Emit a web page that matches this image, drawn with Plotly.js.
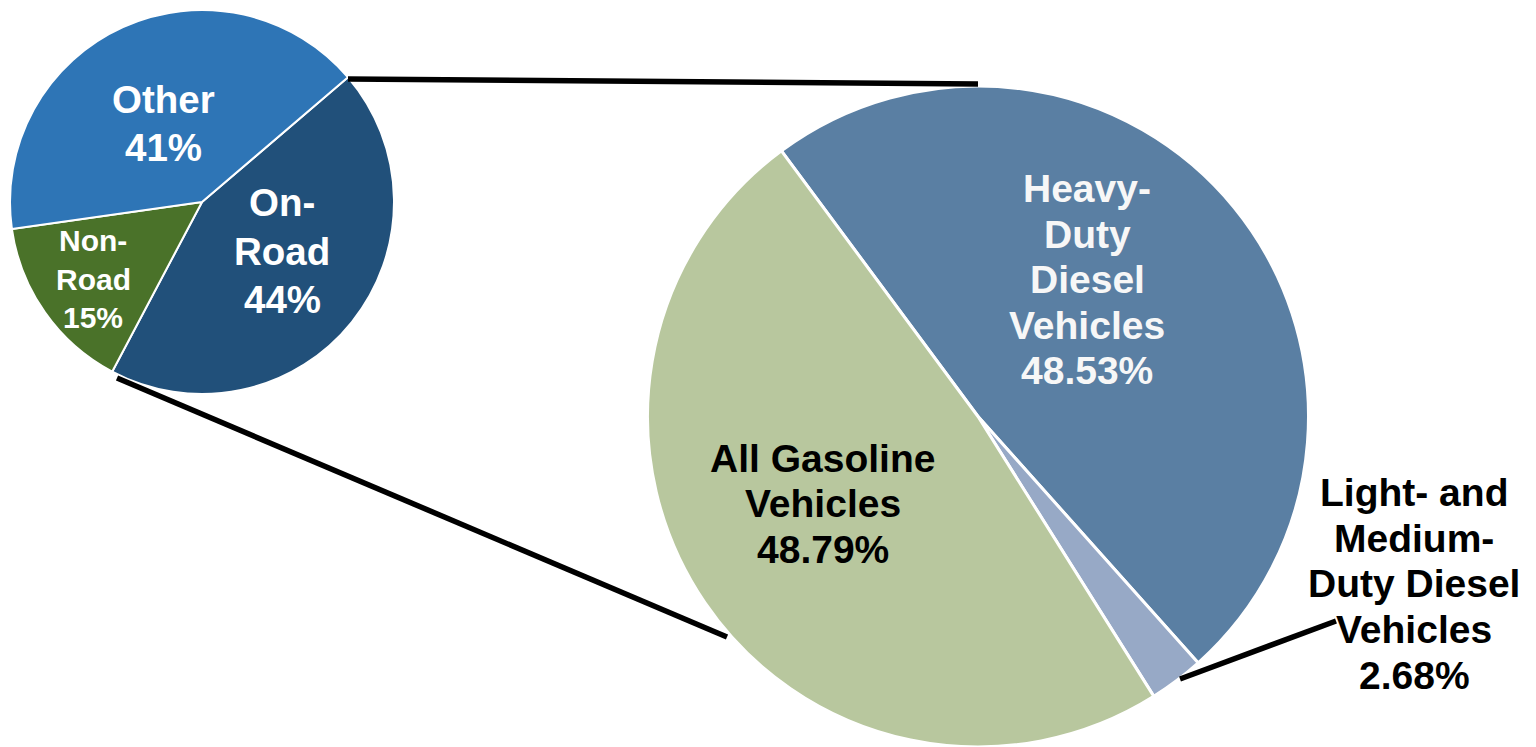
<!DOCTYPE html>
<html>
<head>
<meta charset="utf-8">
<script src="https://cdn.plot.ly/plotly-3.0.1.min.js"></script>
<style>
  html, body { margin: 0; padding: 0; background: #ffffff; }
  #chart { width: 1536px; height: 747px; }
</style>
</head>
<body>
<div id="chart"></div>
<script>
// ---- Data ----
const smallLabels = ['On-Road', 'Non-Road', 'Other'];
const smallValues = [44, 15, 41];
const smallLabelLines = [['On-', 'Road'], ['Non-', 'Road'], ['Other']];

const bigLabels = ['Heavy-Duty Diesel Vehicles', 'Light- and Medium-Duty Diesel Vehicles', 'All Gasoline Vehicles'];
const bigValues = [48.53, 2.68, 48.79];
const bigLabelLines = [['Heavy-', 'Duty', 'Diesel', 'Vehicles'], ['Light- and', 'Medium-', 'Duty Diesel', 'Vehicles'], ['All Gasoline', 'Vehicles']];

// ---- Layout helpers ----
const W = 1536, H = 747;
const FONT = 'Liberation Sans, Arial, sans-serif';
const px = x => x / W;
const py = y => 1 - y / H;

const smallColors = ['#21507A', '#4A7229', '#2E75B6'];
const bigColors = ['#5A7FA3', '#97A9C6', '#B8C79E'];

const traces = [
  {
    type: 'pie', labels: smallLabels, values: smallValues, sort: false,
    direction: 'clockwise', rotation: 49.5, textinfo: 'none', hoverinfo: 'none',
    marker: { colors: smallColors, line: { color: '#ffffff', width: 2 } },
    domain: { x: [px(10), px(394)], y: [py(394), py(10)] }
  },
  {
    type: 'pie', labels: bigLabels, values: bigValues, sort: false,
    direction: 'clockwise', rotation: -36.5, textinfo: 'none', hoverinfo: 'none',
    marker: { colors: bigColors, line: { color: '#ffffff', width: 3 } },
    domain: { x: [px(647), px(1309)], y: [0, py(86)] }
  }
];

const annotations = [];
function addLabel(lines, cx, firstBaseline, spacing, fs, color) {
  lines.forEach((t, i) => {
    const b = firstBaseline + i * spacing;
    annotations.push({
      xref: 'paper', yref: 'paper', x: px(cx), y: py(b - 0.3466 * fs),
      xanchor: 'center', yanchor: 'middle', showarrow: false, text: t,
      font: { family: FONT, size: fs, color: color, weight: 'bold' }
    });
  });
}
const pctSmall = v => v + '%';
const pctBig = v => v.toFixed(2) + '%';

// small pie labels
addLabel(smallLabelLines[0].concat([pctSmall(smallValues[0])]), 282, 216, 48.5, 38.5, '#ffffff');
addLabel(smallLabelLines[1].concat([pctSmall(smallValues[1])]), 93, 251, 38.5, 30, '#ffffff');
addLabel(smallLabelLines[2].concat([pctSmall(smallValues[2])]), 163, 112.7, 48.3, 38.5, '#ffffff');
// big pie labels
addLabel(bigLabelLines[0].concat([pctBig(bigValues[0])]), 1087, 202.3, 45.5, 39, '#F7F7F7');
addLabel(bigLabelLines[1].concat([pctBig(bigValues[1])]), 1414, 506, 45.7, 39, '#000000');
addLabel(bigLabelLines[2].concat([pctBig(bigValues[2])]), 822.5, 471.7, 45.7, 39, '#000000');

function seg(x0, y0, x1, y1) {
  return { type: 'line', xref: 'paper', yref: 'paper', x0: px(x0), y0: py(y0), x1: px(x1), y1: py(y1),
           line: { color: '#000000', width: 5.5 } };
}
const shapes = [
  seg(348, 79, 978, 84),
  seg(117, 378, 727, 637),
  seg(1180, 679, 1336, 621)
];

const layout = {
  width: W, height: H,
  margin: { l: 0, r: 0, t: 0, b: 0, pad: 0 },
  paper_bgcolor: '#ffffff', plot_bgcolor: '#ffffff',
  showlegend: false,
  annotations: annotations,
  shapes: shapes,
  font: { family: FONT }
};

Plotly.newPlot('chart', traces, layout, { displayModeBar: false, staticPlot: true });
</script>
</body>
</html>
